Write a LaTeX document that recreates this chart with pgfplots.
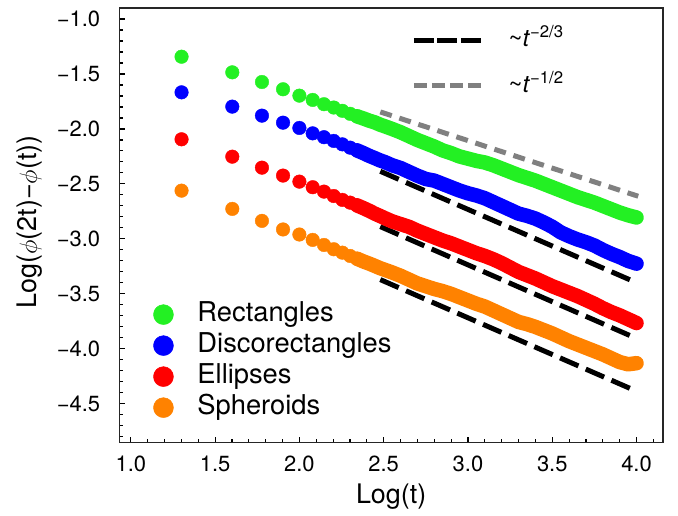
\documentclass[border=0pt]{standalone}
\usepackage{pgfplots}
\pgfplotsset{compat=1.18}
\usepackage{fontspec}
\setmainfont{TeX Gyre Heros}
\definecolor{cgreen}{RGB}{35,240,35}
\definecolor{cblue}{RGB}{0,0,255}
\definecolor{cred}{RGB}{255,0,0}
\definecolor{corange}{RGB}{255,130,0}
\definecolor{cgray}{RGB}{128,128,128}

\pgfplotsset{
  dots/.style={only marks, mark=*, mark size=6.8bp, color=#1,
               mark options={draw=none, fill=#1}, forget plot},
  band/.style={color=#1, line width=14.5bp, line cap=round, line join=round,
               no marks, forget plot},
}

\begin{document}
\begin{tikzpicture}
\begin{axis}[
  scale only axis, width=543.4bp, height=434.7bp,
  xmin=0.932, xmax=4.157, ymin=-4.855, ymax=-0.9,
  axis line style={black!85, line width=1.1bp},
  tick pos=left, tick align=inside,
  major tick length=6bp, minor tick length=3.5bp,
  every tick/.style={black, line width=1.1bp},
  xtick={1,1.5,2,2.5,3,3.5,4},
  xticklabels={1.0,1.5,2.0,2.5,3.0,3.5,4.0},
  minor xtick={1.1,1.2,1.3,1.4,1.6,1.7,1.8,1.9,2.1,2.2,2.3,2.4,2.6,2.7,2.8,2.9,3.1,3.2,3.3,3.4,3.6,3.7,3.8,3.9,4.1},
  ytick={-4.5,-4,-3.5,-3,-2.5,-2,-1.5,-1},
  yticklabels={−4.5,−4.0,−3.5,−3.0,−2.5,−2.0,−1.5,−1.0},
  minor ytick={-4.8,-4.7,-4.6,-4.4,-4.3,-4.2,-4.1,-3.9,-3.8,-3.7,-3.6,-3.4,-3.3,-3.2,-3.1,-2.9,-2.8,-2.7,-2.6,-2.4,-2.3,-2.2,-2.1,-1.9,-1.8,-1.7,-1.6,-1.4,-1.3,-1.2,-1.1},
  tick label style={font=\fontsize{22}{24}\selectfont},
  xticklabel style={anchor=base, inner sep=0pt, yshift=-29bp},
  yticklabel style={anchor=east, inner sep=0pt, xshift=-19bp},
  xlabel={Log(t)},
  ylabel={Log($\phi$(2t)−$\phi$(t))},
  label style={font=\fontsize{27}{29}\selectfont},
  xlabel style={at={(axis description cs:0.5,0)}, anchor=center, yshift=-54bp},
  ylabel style={at={(axis description cs:-0.1643,0.508)}, anchor=center},
  legend style={at={(rel axis cs:0.062,0.188)}, anchor=west, draw=none, fill=none,
    font=\fontsize{27.4}{29}\selectfont, inner sep=0pt, row sep=6bp,
    nodes={inner sep=0pt, text height=19bp, text depth=6bp}},
  legend cell align=left,
]
% power-law guides
\addplot[cgray, line width=5bp, dash pattern=on 12bp off 8bp, forget plot]
  coordinates {(2.48,-1.845) (4.01,-2.612)};
\addplot[black, line width=5bp, dash pattern=on 20bp off 8bp, forget plot]
  coordinates {(2.48,-2.385) (4.0,-3.398)};
\addplot[black, line width=5bp, dash pattern=on 20bp off 8bp, forget plot]
  coordinates {(2.48,-2.888) (4.0,-3.905)};
\addplot[black, line width=5bp, dash pattern=on 20bp off 8bp, forget plot]
  coordinates {(2.48,-3.37) (4.0,-4.385)};

% Rectangles
\addplot[dots=cgreen] coordinates {
(1.301,-1.343) (1.602,-1.485) (1.778,-1.573) (1.903,-1.639) (2.0,-1.697)
(2.079,-1.736) (2.146,-1.775) (2.204,-1.805) (2.255,-1.835) (2.301,-1.862)
(2.342,-1.885)};
\addplot[band=cgreen] coordinates {
(2.342,-1.885) (2.380,-1.905) (2.415,-1.925) (2.447,-1.940) (2.477,-1.960)
(2.505,-1.975) (2.55,-2.000) (2.60,-2.030) (2.65,-2.065) (2.70,-2.100)
(2.75,-2.130) (2.80,-2.160) (2.85,-2.195) (2.90,-2.220) (2.95,-2.250)
(3.00,-2.270) (3.05,-2.290) (3.10,-2.305) (3.15,-2.330) (3.20,-2.360)
(3.25,-2.390) (3.30,-2.420) (3.35,-2.445) (3.40,-2.470) (3.45,-2.500)
(3.50,-2.530) (3.55,-2.560) (3.60,-2.590) (3.65,-2.620) (3.70,-2.645)
(3.75,-2.670) (3.80,-2.700) (3.85,-2.730) (3.90,-2.760) (3.95,-2.785)
(4.00,-2.805)};
% Discorectangles
\addplot[dots=cblue] coordinates {
(1.301,-1.667) (1.602,-1.797) (1.778,-1.879) (1.903,-1.943) (2.0,-1.991)
(2.079,-2.040) (2.146,-2.075) (2.204,-2.109) (2.255,-2.140) (2.301,-2.170)
(2.342,-2.195)};
\addplot[band=cblue] coordinates {
(2.342,-2.195) (2.380,-2.220) (2.415,-2.245) (2.447,-2.265) (2.477,-2.285)
(2.505,-2.300) (2.55,-2.330) (2.60,-2.355) (2.65,-2.390) (2.70,-2.425)
(2.75,-2.455) (2.80,-2.470) (2.85,-2.500) (2.90,-2.530) (2.95,-2.560)
(3.00,-2.585) (3.05,-2.605) (3.10,-2.630) (3.15,-2.665) (3.20,-2.700)
(3.25,-2.735) (3.30,-2.770) (3.35,-2.790) (3.40,-2.815) (3.45,-2.850)
(3.50,-2.890) (3.55,-2.940) (3.60,-2.975) (3.65,-3.005) (3.70,-3.030)
(3.75,-3.060) (3.80,-3.100) (3.85,-3.135) (3.90,-3.165) (3.95,-3.200)
(4.00,-3.225)};
% Ellipses
\addplot[dots=cred] coordinates {
(1.301,-2.094) (1.602,-2.252) (1.778,-2.352) (1.903,-2.424) (2.0,-2.479)
(2.079,-2.530) (2.146,-2.570) (2.204,-2.610) (2.255,-2.645) (2.301,-2.670)
(2.342,-2.695)};
\addplot[band=cred] coordinates {
(2.342,-2.695) (2.380,-2.720) (2.415,-2.745) (2.447,-2.770) (2.477,-2.790)
(2.505,-2.810) (2.55,-2.840) (2.60,-2.865) (2.65,-2.890) (2.70,-2.925)
(2.75,-2.955) (2.80,-2.985) (2.85,-3.015) (2.90,-3.040) (2.95,-3.070)
(3.00,-3.100) (3.05,-3.130) (3.10,-3.155) (3.15,-3.185) (3.20,-3.220)
(3.25,-3.260) (3.30,-3.300) (3.35,-3.330) (3.40,-3.360) (3.45,-3.395)
(3.50,-3.430) (3.55,-3.460) (3.60,-3.490) (3.65,-3.520) (3.70,-3.555)
(3.75,-3.590) (3.80,-3.630) (3.85,-3.665) (3.90,-3.695) (3.95,-3.730)
(4.00,-3.765)};
% Spheroids
\addplot[dots=corange] coordinates {
(1.301,-2.561) (1.602,-2.727) (1.778,-2.836) (1.903,-2.914) (2.0,-2.960)
(2.079,-3.009) (2.146,-3.055) (2.204,-3.094) (2.255,-3.125) (2.301,-3.155)
(2.342,-3.180)};
\addplot[band=corange] coordinates {
(2.342,-3.180) (2.380,-3.205) (2.415,-3.225) (2.447,-3.245) (2.477,-3.265)
(2.505,-3.280) (2.55,-3.305) (2.60,-3.335) (2.65,-3.370) (2.70,-3.405)
(2.75,-3.430) (2.80,-3.455) (2.85,-3.475) (2.90,-3.500) (2.95,-3.530)
(3.00,-3.560) (3.05,-3.590) (3.10,-3.615) (3.15,-3.650) (3.20,-3.685)
(3.25,-3.720) (3.30,-3.755) (3.35,-3.775) (3.40,-3.800) (3.45,-3.830)
(3.50,-3.860) (3.55,-3.895) (3.60,-3.930) (3.65,-3.960) (3.70,-3.990)
(3.75,-4.020) (3.80,-4.050) (3.85,-4.085) (3.90,-4.120) (3.95,-4.140)
(4.00,-4.130)};

\addlegendimage{legend image code/.code={\fill[cgreen] (0bp,0bp) circle (10bp); \path[draw=none] (-10bp,0bp) rectangle (34bp,0.1bp);}}
\addlegendentry{Rectangles}
\addlegendimage{legend image code/.code={\fill[cblue] (0bp,0bp) circle (10bp); \path[draw=none] (-10bp,0bp) rectangle (34bp,0.1bp);}}
\addlegendentry{Discorectangles}
\addlegendimage{legend image code/.code={\fill[cred] (0bp,0bp) circle (10bp); \path[draw=none] (-10bp,0bp) rectangle (34bp,0.1bp);}}
\addlegendentry{Ellipses}
\addlegendimage{legend image code/.code={\fill[corange] (0bp,0bp) circle (10bp); \path[draw=none] (-10bp,0bp) rectangle (34bp,0.1bp);}}
\addlegendentry{Spheroids}
\end{axis}

\begin{axis}[
  scale only axis, width=543.4bp, height=434.7bp,
  xmin=0.932, xmax=4.157, ymin=-4.855, ymax=-0.9,
  hide axis,
  legend style={at={(rel axis cs:0.5368,0.8737)}, anchor=west, draw=none, fill=none,
    font=\fontsize{24}{26}\selectfont, inner sep=0pt, row sep=20.5bp,
    nodes={inner sep=0pt, text height=19bp, text depth=6bp}},
  legend cell align=left,
]
\addlegendimage{legend image code/.code={\draw[black, line width=5bp, dash pattern=on 20bp off 3.5bp] (0bp,0bp) -- (67bp,0bp); \path[draw=none] (0bp,0bp) rectangle (94.7bp,0.1bp);}}
\addlegendentry{\textasciitilde\textit{t}\textsuperscript{−2/3}}
\addlegendimage{legend image code/.code={\draw[cgray, line width=5bp, dash pattern=on 13bp off 5bp] (0bp,0bp) -- (70bp,0bp); \path[draw=none] (0bp,0bp) rectangle (94.7bp,0.1bp);}}
\addlegendentry{\textasciitilde\textit{t}\textsuperscript{−1/2}}
\end{axis}

\pgfresetboundingbox
\path ([shift={(-119.3bp,-72.3bp)}]current axis.south west) rectangle ([shift={(15bp,8bp)}]current axis.north east);
\end{tikzpicture}
\end{document}
